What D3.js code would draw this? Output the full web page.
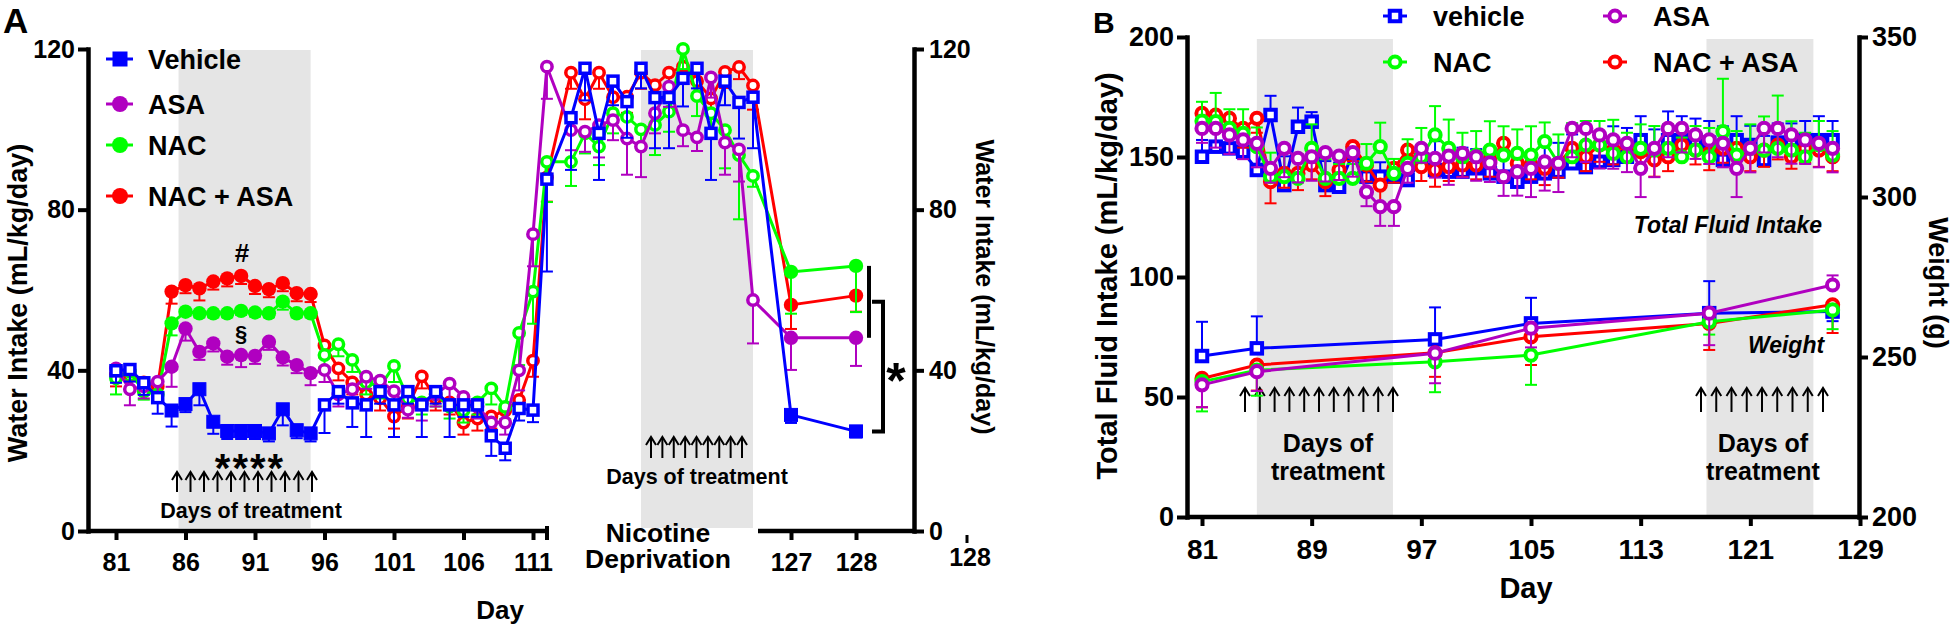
<!DOCTYPE html>
<html><head><meta charset="utf-8">
<script src="https://cdn.jsdelivr.net/npm/d3@7"></script>
<style>
html,body{margin:0;padding:0;background:#fff;}
svg{display:block;font-family:"Liberation Sans",Arial,sans-serif;}
</style></head><body>
<svg id="chart" width="1955" height="631"></svg>
<script>
// ================= DATA =================
// ---- Panel A : water intake (mL/kg/day) ----
const daysA1 = [81,82,83,84,85,86,87,88,89,90,91,92,93,94,95,96,97,98,99,100,101,102,103,104,105,106,107,108,109,110,111,112];
const treatA1 = [85,86,87,88,89,90,91,92,93,94,95];
const deprA = [0,1,2,3,4,5,6,7,8,9,10,11,12,13];   // nicotine deprivation sessions
const daysA3 = [127,128];
const xTicksA1 = [81,86,91,96,101,106,111];
const yTicksA = [0,40,80,120];

const vehA1 = [39.9,40.2,36.9,33.2,30.0,31.6,35.3,27.2,24.9,24.9,24.9,24.3,30.3,25.1,24.3,31.4,34.7,31.9,31.4,34.7,31.4,34.7,31.4,34.7,31.4,31.4,31.4,23.7,20.6,30.5,30.1,87.6];
const vehA2 = [102.9,115.2,99,112,106.9,115.2,107.9,107.9,112.7,115.2,99,112,106.7,108];
const vehA3 = [28.9,24.8];
const vehA1e = [3,3,3,4,4,2,4,3,2,2,2,2,4,2,2,7,3,6,8,3,8,3,8,3,8,3,3,5,3,3,3,23];
const vehA2e = [13,8,11.6,6,9,5,12.6,12.6,7,5,11.6,6,9,12.7];
const vehA3e = [2,1.5];

const asaA1 = [40.5,35.3,36,37.2,40.9,50.4,44.6,46.7,43.4,43.8,43.6,47.1,43.2,41.3,39.3,40.1,34,35.3,38.4,37.4,34.8,30.2,31.5,34,36.7,33.4,31,27,27,40,73.9,115.6];
const asaA2 = [99.8,99.4,101,102.3,97.7,95.7,104,110.6,99.8,98,112.9,96.7,95,57.5];
const asaA3 = [48.1,48.1];
const asaA1e = [2,4,3,3,5,3,2,2,2,3,2,2,2,2,3,3,3,4,3,3,3,2,4,3,4,3,3,3,3,5,8,8];
const asaA2e = [5,5,8,5,9,7.6,5,5,4,3.4,5,8,8,10.8];
const asaA3e = [8,7];

const nacA1 = [38,39.7,34.7,34,51.7,54.6,54.2,54.2,54.2,54.8,54.4,54.2,57.1,54.2,54.2,43.8,46.5,42.6,37,36,41.1,33,32,34,31,30,32,35.5,30.9,49.3,59.6,91.9];
const nacA2 = [91.9,99,95.7,104,103.1,100,101.1,104.4,120,108.3,104,99.8,93.6,88.4];
const nacA3 = [64.5,66];
const nacA1e = [4,2,2,2,3,1,1,1,1,1,1,1,2,1,1,3,3,3,3,3,4,3,3,3,3,3,3,4,3,8,8,10];
const nacA2e = [6,5,4.6,5,5,5,7.5,5,5,5,5,9.5,16,2.7];
const nacA3e = [10.4,11.5];

const comboA1 = [39,38.5,37,36,59.6,61.2,60.4,62.1,62.9,63.5,61,60.2,61.7,59.2,59,46.2,40.5,37,34,33,28.5,31,38.5,33,32,27,28,28.5,30,32.6,42.4,88];
const comboA2 = [114.1,107.5,114.1,108,108.1,114.1,111,114.1,115.6,112,107.7,114.3,115.5,110.9];
const comboA3 = [56.3,58.6];
const comboA1e = [3,3,3,3,3,2,3,2,2,2,2,2,2,2,2,3,3,3,3,3,3,3,3,3,3,3,3,3,3,3,4,6];
const comboA2e = [4,5,4,4,4,4,4,4,4,4,4,4,3,6];
const comboA3e = [6,4];

// ---- Panel B : total fluid intake and weight ----
const daysB = [81,82,83,84,85,86,87,88,89,90,91,92,93,94,95,96,97,98,99,100,101,102,103,104,105,106,107,108,109,110,111,112,113,114,115,116,117,118,119,120,121,122,123,124,125,126,127];
const xTicksB = [81,89,97,105,113,121,129];
const yTicksB = [0,50,100,150,200];
const yTicksW = [200,250,300,350];

const vehB = [150.1,154.3,153.6,152.2,144.6,167.5,138.3,162.6,164.7,138.3,137.6,151.5,141.8,141.8,141.8,140.4,148.8,144.6,143.9,143.9,145.3,143.2,141.8,139.7,141.8,143.2,143.9,147.4,145.8,148,148.8,150.1,157,151.5,157,157,157,156,148.8,157,155,148.8,156,157,157,157,157];
const vehBe = [7,7,7,7,10,8,12,8,4,10,10,4,5,6,5,6,6,12,8,10,8,8,9,10,8,12,12,12,9,12,14,12,10,10,12,10,9,9,14,10,8,10,8,7,8,10,8];
const asaB = [161.9,161.9,159.2,157.1,155.7,145.3,153.6,149.4,150.1,151.8,150.4,151.8,135.5,129.3,129.3,145.3,153.6,149.4,150.4,151.5,150.1,147.6,141.8,143.9,145.3,148,147.4,161.9,161.9,159.2,157.1,155.7,145.3,153.6,161.9,161.9,159.2,157.1,155.7,145.3,153.6,161.9,161.9,159.2,157.1,155.7,153.6];
const asaBe = [6,8,8,8,10,6,12,10,10,12,10,10,6,8,8,6,6,8,12,10,10,8,8,10,12,12,12,12,14,14,12,12,12,12,12,10,10,10,10,12,10,10,12,12,10,10,10];
const nacB = [165,164.7,161.9,159.9,154.3,141.8,141.8,141.1,153.6,141.1,141.1,141.1,147.4,154.3,143.2,147.4,150.1,159.2,153.6,150.1,150.8,152.9,150.8,151.5,150.8,156.4,147.4,150.1,155,155,151.5,150.1,153.6,152.9,153.6,150.1,152.9,150.1,160.6,150.8,153.6,152.9,153.6,152.9,150.1,155,150.8];
const nacBe = [8,12,8,10,8,10,12,10,10,8,6,6,8,10,6,10,12,12,12,10,10,12,12,10,12,8,12,14,10,10,14,10,10,10,10,8,10,12,22,10,10,14,22,12,10,10,10];
const comboB = [168.2,167.5,166.1,161.9,166.1,139.7,143.2,143.2,146.7,139.7,144.6,154.3,146.7,138.3,145.3,152.9,146,144.6,146,146.7,146.7,148.8,155.7,147.4,146.7,145.3,147.4,153.6,150.1,155,152.9,155,152.2,148.8,150.1,155,152.9,151.5,153.6,153.6,150.1,152.9,155,150.1,153.6,152.9,150.1];
const comboBe = [6,5,7,8,6,9,6,7,6,6,5,6,7,9,6,5,6,7,6,5,6,7,6,5,6,7,6,5,6,7,6,5,6,7,6,5,6,7,6,5,6,7,6,5,6,7,6];

const weightDays = [81,85,98,105,118,127];
const vehW = [250.3,252.7,255.5,260.5,263.7,264.2];
const vehWe = [10.7,10,10,8,10,-3];      // + above, - below
const asaW = [241.3,245.4,251.2,259,263.7,272.5];
const asaWe = [-7,-6,-9.4,-6,-10,3];
const nacW = [242.3,245.9,248.5,250.6,261,264.7];
const nacWe = [-9.3,-8,-9.5,-9.3,-4,-6];
const comboW = [243.3,247.5,251.3,256.3,260.5,266.3];
const comboWe = [-9,-8,-7.5,-8.8,-8.3,-8.8];

// ================= DRAWING =================
const COL = {veh:"#0000ff", asa:"#b000c0", nac:"#00ff00", combo:"#ff0000"};
const FONT = "'Liberation Sans', Arial, sans-serif";
const svg = d3.select("#chart");

function styleAxis(g, fs){
  g.attr("font-size", fs).attr("font-family", FONT).attr("font-weight","bold");
  g.select(".domain").attr("stroke","#000").attr("stroke-width",4.5).attr("stroke-linecap","square");
  g.selectAll(".tick line").attr("stroke","#000").attr("stroke-width",4);
  g.selectAll(".tick text").attr("fill","#000");
}
function txt(g, x, y, s, fs, opts){
  opts = opts || {};
  const t = g.append("text").attr("x",x).attr("y",y).text(s)
    .attr("font-size",fs).attr("font-family",FONT)
    .attr("font-weight", opts.weight || "bold")
    .attr("text-anchor", opts.anchor || "middle").attr("fill","#000");
  if (opts.italic) t.attr("font-style","italic");
  if (opts.transform) t.attr("transform", opts.transform).attr("x",0).attr("y",0);
  if (opts.ls) t.attr("letter-spacing", opts.ls);
  return t;
}
function marker(g, shape, x, y, color, filled, sz){
  if (shape === "square"){
    if (filled) g.append("rect").attr("x",x-sz.sq/2).attr("y",y-sz.sq/2).attr("width",sz.sq).attr("height",sz.sq).attr("fill",color).attr("stroke",color).attr("stroke-width",1);
    else g.append("rect").attr("x",x-sz.osq/2).attr("y",y-sz.osq/2).attr("width",sz.osq).attr("height",sz.osq).attr("fill","#fff").attr("stroke",color).attr("stroke-width",sz.sw);
  } else {
    if (filled) g.append("circle").attr("cx",x).attr("cy",y).attr("r",sz.r).attr("fill",color);
    else g.append("circle").attr("cx",x).attr("cy",y).attr("r",sz.or).attr("fill","#fff").attr("stroke",color).attr("stroke-width",sz.sw);
  }
}
function arrows(g, xs, yTop, yBot){
  xs.forEach(x=>{
    g.append("line").attr("x1",x).attr("x2",x).attr("y1",yTop+1).attr("y2",yBot).attr("stroke","#000").attr("stroke-width",2);
    g.append("path").attr("d",`M${x-5},${yTop+8}L${x},${yTop}L${x+5},${yTop+8}`).attr("fill","none").attr("stroke","#000").attr("stroke-width",2);
  });
}

// ---------- PANEL A ----------
const gA = svg.append("g");
const yA = d3.scaleLinear().domain([0,120]).range([531,49]);
const x1 = d3.scaleLinear().domain([81,111]).range([116,533]);
const x2 = d3.scaleLinear().domain([0,13]).range([571,753]);
const x3 = d3.scaleLinear().domain([127,128]).range([791,856]);
const rightAxisX = 914;

// shaded treatment windows
gA.append("rect").attr("x",x1(85.5)).attr("width",x1(95)-x1(85.5)).attr("y",yA(120)+1).attr("height",yA(0)-yA(120)-4).attr("fill","#e5e5e5");
gA.append("rect").attr("x",x2(5)).attr("width",x2(13)-x2(5)).attr("y",yA(120)+1).attr("height",yA(0)-yA(120)-4).attr("fill","#e5e5e5");

// annotations inside panel A
const arrA1 = d3.scaleLinear().domain([0,10]).range([177,312]);
arrows(gA, treatA1.map((d,i)=>arrA1(i)), 472, 492);
const arrA2 = d3.scaleLinear().domain([0,8]).range([651,742]);
arrows(gA, deprA.slice(5).map((d,i)=>arrA2(i)), 437, 458);
txt(gA, 251, 518, "Days of treatment", 21.5);
txt(gA, 697, 484, "Days of treatment", 21.5);
txt(gA, 250, 482, "****", 40, {ls:2});
txt(gA, 242, 262, "#", 26);
txt(gA, 241, 341, "§", 22);
txt(gA, 658, 541.5, "Nicotine", 26.5);
txt(gA, 658, 568, "Deprivation", 26.5);

function buildA(v1,v2,v3,e1,e2,e3){
  const pts = [];
  daysA1.forEach((d,i)=>pts.push({x:x1(d), v:v1[i], e:e1[i], f: treatA1.includes(d)}));
  deprA.forEach((d,i)=>pts.push({x:x2(d), v:v2[i], e:e2[i], f:false}));
  daysA3.forEach((d,i)=>pts.push({x:x3(d), v:v3[i], e:e3[i], f:true}));
  return pts;
}
const seriesA = [
  {c:COL.combo, shape:"circle", pts: buildA(comboA1,comboA2,comboA3,comboA1e,comboA2e,comboA3e)},
  {c:COL.nac,   shape:"circle", pts: buildA(nacA1,nacA2,nacA3,nacA1e,nacA2e,nacA3e)},
  {c:COL.asa,   shape:"circle", pts: buildA(asaA1,asaA2,asaA3,asaA1e,asaA2e,asaA3e)},
  {c:COL.veh,   shape:"square", pts: buildA(vehA1,vehA2,vehA3,vehA1e,vehA2e,vehA3e)}
];
const szA = {r:7.2, or:5.2, sw:3.5, sq:13, osq:10};
const lineA = d3.line().x(d=>d.x).y(d=>yA(d.v));
seriesA.forEach(s=>{
  const g = gA.append("g");
  s.pts.forEach(p=>{
    const y0 = yA(p.v), y1 = yA(p.v - p.e);
    g.append("line").attr("x1",p.x).attr("x2",p.x).attr("y1",y0).attr("y2",y1).attr("stroke",s.c).attr("stroke-width",2);
    g.append("line").attr("x1",p.x-6).attr("x2",p.x+6).attr("y1",y1).attr("y2",y1).attr("stroke",s.c).attr("stroke-width",2);
  });
  g.append("path").datum(s.pts).attr("d",lineA).attr("fill","none").attr("stroke",s.c).attr("stroke-width",3);
  s.pts.forEach(p=>marker(g, s.shape, p.x, yA(p.v), s.c, p.f, szA));
});

// bracket + significance
const bx = 869;
gA.append("line").attr("x1",bx).attr("x2",bx).attr("y1",yA(nacA3[1])).attr("y2",yA(asaA3[1])).attr("stroke","#000").attr("stroke-width",4);
const bTop = yA((nacA3[1]+asaA3[1])/2), bBot = yA(vehA3[1]);
gA.append("path").attr("d",`M872,${bTop}H883V${bBot}H872`).attr("fill","none").attr("stroke","#000").attr("stroke-width",4);
txt(gA, 896, 398, "*", 50);

// axes A
const axL = gA.append("g").attr("transform","translate(88,0)")
  .call(d3.axisLeft(yA).tickValues(yTicksA).tickSize(10).tickSizeOuter(0).tickPadding(3));
styleAxis(axL, 25);
const axR = gA.append("g").attr("transform",`translate(${rightAxisX},0)`)
  .call(d3.axisRight(yA).tickValues(yTicksA).tickSize(10).tickSizeOuter(0).tickPadding(5));
styleAxis(axR, 25);
gA.append("line").attr("x1",88).attr("x2",547).attr("y1",531).attr("y2",531).attr("stroke","#000").attr("stroke-width",4.5);
gA.append("line").attr("x1",547).attr("x2",547).attr("y1",526).attr("y2",540).attr("stroke","#000").attr("stroke-width",4);
const axB1 = gA.append("g").attr("transform","translate(0,531)")
  .call(d3.axisBottom(x1).tickValues(xTicksA1).tickFormat(d3.format("d")).tickSize(9).tickSizeOuter(0).tickPadding(13));
styleAxis(axB1, 25); axB1.select(".domain").remove();
gA.append("line").attr("x1",758).attr("x2",rightAxisX).attr("y1",531).attr("y2",531).attr("stroke","#000").attr("stroke-width",4.5);
const axB3 = gA.append("g").attr("transform","translate(0,531)")
  .call(d3.axisBottom(x3).tickValues(daysA3).tickFormat(d3.format("d")).tickSize(9).tickSizeOuter(0).tickPadding(13));
styleAxis(axB3, 25); axB3.select(".domain").remove();
gA.append("line").attr("x1",967).attr("x2",967).attr("y1",535).attr("y2",543).attr("stroke","#000").attr("stroke-width",3);
txt(gA, 970, 566, String(daysA3[1]), 25);

txt(gA, 500, 619, "Day", 26);
txt(gA, 0, 0, "Water Intake (mL/kg/day)", 27, {transform:"translate(26.5,303) rotate(-90)"});
txt(gA, 0, 0, "Water Intake (mL/kg/day)", 25, {transform:"translate(976,287) rotate(90)"});
txt(gA, 3, 33, "A", 35, {anchor:"start"});

// legend A
const legA = [
  {n:"Vehicle", c:COL.veh, shape:"square", y:59},
  {n:"ASA", c:COL.asa, shape:"circle", y:104},
  {n:"NAC", c:COL.nac, shape:"circle", y:145},
  {n:"NAC + ASA", c:COL.combo, shape:"circle", y:196}
];
legA.forEach(l=>{
  gA.append("line").attr("x1",106).attr("x2",133).attr("y1",l.y).attr("y2",l.y).attr("stroke",l.c).attr("stroke-width",3);
  marker(gA, l.shape, 120, l.y, l.c, true, {r:8, sq:14});
  txt(gA, 148, l.y+9.5, l.n, 27, {anchor:"start"});
});

// ---------- PANEL B ----------
const gB = svg.append("g");
const yB = d3.scaleLinear().domain([0,200]).range([517,37]);
const yW = d3.scaleLinear().domain([200,350]).range([517,37]);
const xB = d3.scaleLinear().domain([81,129]).range([1202,1860]);

gB.append("rect").attr("x",xB(85)).attr("width",xB(94.93)-xB(85)).attr("y",39).attr("height",476).attr("fill","#e5e5e5");
gB.append("rect").attr("x",xB(117.8)).attr("width",xB(125.6)-xB(117.8)).attr("y",39).attr("height",476).attr("fill","#e5e5e5");

const arrB1 = d3.scaleLinear().domain([0,10]).range([1245,1393]);
arrows(gB, [0,1,2,3,4,5,6,7,8,9,10].map(i=>arrB1(i)), 388, 412);
const arrB2 = d3.scaleLinear().domain([0,8]).range([1701,1823]);
arrows(gB, [0,1,2,3,4,5,6,7,8].map(i=>arrB2(i)), 388, 412);
txt(gB, 1328, 451.5, "Days of", 25);
txt(gB, 1328, 480, "treatment", 25);
txt(gB, 1763, 451.5, "Days of", 25);
txt(gB, 1763, 480, "treatment", 25);
txt(gB, 1728, 233, "Total Fluid Intake", 23, {italic:true});
txt(gB, 1786, 353, "Weight", 23, {italic:true});

const szB = {r:6.5, or:5.6, sw:4, sq:12, osq:10.5};
const seriesB = [
  {c:COL.veh, shape:"square", v:vehB, e:vehBe, dir:1, w:vehW, we:vehWe},
  {c:COL.combo, shape:"circle", v:comboB, e:comboBe, dir:-1, w:comboW, we:comboWe},
  {c:COL.nac, shape:"circle", v:nacB, e:nacBe, dir:1, w:nacW, we:nacWe},
  {c:COL.asa, shape:"circle", v:asaB, e:asaBe, dir:-1, w:asaW, we:asaWe}
];
// weight (right axis) first
seriesB.forEach(s=>{
  const g = gB.append("g");
  const pts = weightDays.map((d,i)=>({x:xB(d), v:s.w[i], e:s.we[i]}));
  pts.forEach(p=>{
    const y0 = yW(p.v), y1 = yW(p.v + p.e);
    g.append("line").attr("x1",p.x).attr("x2",p.x).attr("y1",y0).attr("y2",y1).attr("stroke",s.c).attr("stroke-width",2);
    g.append("line").attr("x1",p.x-6).attr("x2",p.x+6).attr("y1",y1).attr("y2",y1).attr("stroke",s.c).attr("stroke-width",2);
  });
  g.append("path").datum(pts).attr("d",d3.line().x(d=>d.x).y(d=>yW(d.v))).attr("fill","none").attr("stroke",s.c).attr("stroke-width",3);
  pts.forEach(p=>marker(g, s.shape, p.x, yW(p.v), s.c, false, szB));
});
// fluid intake (left axis)
seriesB.forEach(s=>{
  const g = gB.append("g");
  const pts = daysB.map((d,i)=>({x:xB(d), v:s.v[i], e:s.e[i]*s.dir}));
  pts.forEach(p=>{
    const y0 = yB(p.v), y1 = yB(p.v + p.e);
    g.append("line").attr("x1",p.x).attr("x2",p.x).attr("y1",y0).attr("y2",y1).attr("stroke",s.c).attr("stroke-width",2);
    g.append("line").attr("x1",p.x-6).attr("x2",p.x+6).attr("y1",y1).attr("y2",y1).attr("stroke",s.c).attr("stroke-width",2);
  });
  g.append("path").datum(pts).attr("d",d3.line().x(d=>d.x).y(d=>yB(d.v))).attr("fill","none").attr("stroke",s.c).attr("stroke-width",3);
  pts.forEach(p=>marker(g, s.shape, p.x, yB(p.v), s.c, false, szB));
});

// axes B
const bL = gB.append("g").attr("transform","translate(1187,0)")
  .call(d3.axisLeft(yB).tickValues(yTicksB).tickSize(10).tickSizeOuter(0).tickPadding(3));
styleAxis(bL, 27);
const bR = gB.append("g").attr("transform","translate(1859,0)")
  .call(d3.axisRight(yW).tickValues(yTicksW).tickSize(9).tickSizeOuter(0).tickPadding(4));
styleAxis(bR, 27);
gB.append("line").attr("x1",1187).attr("x2",1859).attr("y1",517).attr("y2",517).attr("stroke","#000").attr("stroke-width",4.5);
const bX = gB.append("g").attr("transform","translate(0,517)")
  .call(d3.axisBottom(xB).tickValues(xTicksB).tickFormat(d3.format("d")).tickSize(9).tickSizeOuter(0).tickPadding(13));
styleAxis(bX, 28); bX.select(".domain").remove();

txt(gB, 1526, 598, "Day", 29);
txt(gB, 0, 0, "Total Fluid Intake (mL/kg/day)", 29, {transform:"translate(1117,276) rotate(-90)"});
txt(gB, 0, 0, "Weight (g)", 27, {transform:"translate(1929,283) rotate(90)"});
txt(gB, 1093, 33, "B", 30, {anchor:"start"});

// legend B
const legB = [
  {n:"vehicle", c:COL.veh, shape:"square", x:1395, y:16},
  {n:"NAC", c:COL.nac, shape:"circle", x:1395, y:62},
  {n:"ASA", c:COL.asa, shape:"circle", x:1615, y:16},
  {n:"NAC + ASA", c:COL.combo, shape:"circle", x:1615, y:62}
];
legB.forEach(l=>{
  gB.append("line").attr("x1",l.x-12).attr("x2",l.x+12).attr("y1",l.y).attr("y2",l.y).attr("stroke",l.c).attr("stroke-width",3);
  marker(gB, l.shape, l.x, l.y, l.c, false, szB);
  txt(gB, l.x+38, l.y+10, l.n, 27, {anchor:"start"});
});
</script>
</body></html>
